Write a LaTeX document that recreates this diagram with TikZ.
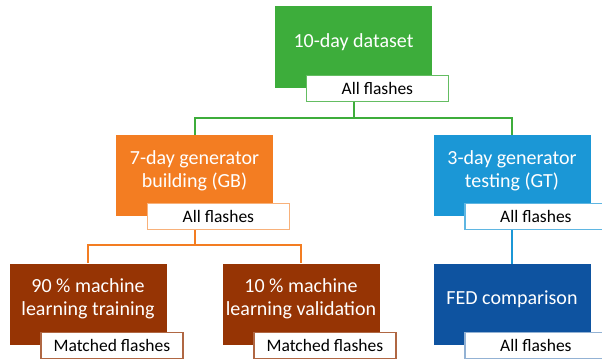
\documentclass[tikz,border=0pt]{standalone}
\usepackage{fontspec}
\setmainfont{Carlito}
\usepackage{tikz}
\usetikzlibrary{positioning}

\definecolor{dsgreen}{RGB}{61,173,59}
\definecolor{gborange}{RGB}{243,125,34}
\definecolor{gtblue}{RGB}{27,151,214}
\definecolor{fedblue}{RGB}{14,83,160}
\definecolor{mlbrown}{RGB}{150,52,4}

\begin{document}
\begin{tikzpicture}[x=1pt, y=-1pt,
    block/.style={fill=#1, minimum width=157pt, minimum height=81pt, inner sep=0pt,
        align=center, text=white, text depth=13pt, font=\fontsize{20}{23}\selectfont},
    tag/.style={draw=#1, fill=white, line width=1.2pt, minimum width=142pt, minimum height=26pt,
        inner sep=0pt, font=\fontsize{17.5}{20}\selectfont},
    link/.style={line width=2pt}]
    \useasboundingbox (0,0) rectangle (602,361);

    \node[block=dsgreen] (ds) at (353.5,47) {10-day dataset};
    \node[tag=dsgreen!80, below right=-13pt and 31pt of ds.south west] (dstag) {All flashes};

    \node[block=gborange] (gb) at (194.5,175.5) {7-day generator\\building (GB)};
    \node[tag=gborange!60, below right=-13pt and 31pt of gb.south west] (gbtag) {All flashes};

    \node[block=gtblue] (gt) at (512,175.5) {3-day generator\\testing (GT)};
    \node[tag=gtblue!70, below right=-13pt and 31pt of gt.south west] (gttag) {All flashes};

    \node[block=mlbrown] (trn) at (88,304) {90 \% machine\\learning training};
    \node[tag=mlbrown!75, below right=-13pt and 31pt of trn.south west] (trntag) {Matched flashes};

    \node[block=mlbrown] (val) at (301,304) {10 \% machine\\learning validation};
    \node[tag=mlbrown!75, below right=-13pt and 31pt of val.south west] (valtag) {Matched flashes};

    \node[block=fedblue] (fed) at (512,304.5) {FED comparison};
    \node[tag=fedblue!45, below right=-13pt and 31pt of fed.south west] (fedtag) {All flashes};

    \draw[link, dsgreen] (ds.south |- dstag.south) -- ++(0,16) -| (gb.north);
    \draw[link, dsgreen] (ds.south |- dstag.south) -- ++(0,16) -| (gt.north);
    \draw[link, gborange] (gb.south |- gbtag.south) -- ++(0,15) -| (trn.north);
    \draw[link, gborange] (gb.south |- gbtag.south) -- ++(0,15) -| (val.north);
    \draw[link, gtblue] (gt.south |- gttag.south) -- (fed.north);
\end{tikzpicture}
\end{document}
